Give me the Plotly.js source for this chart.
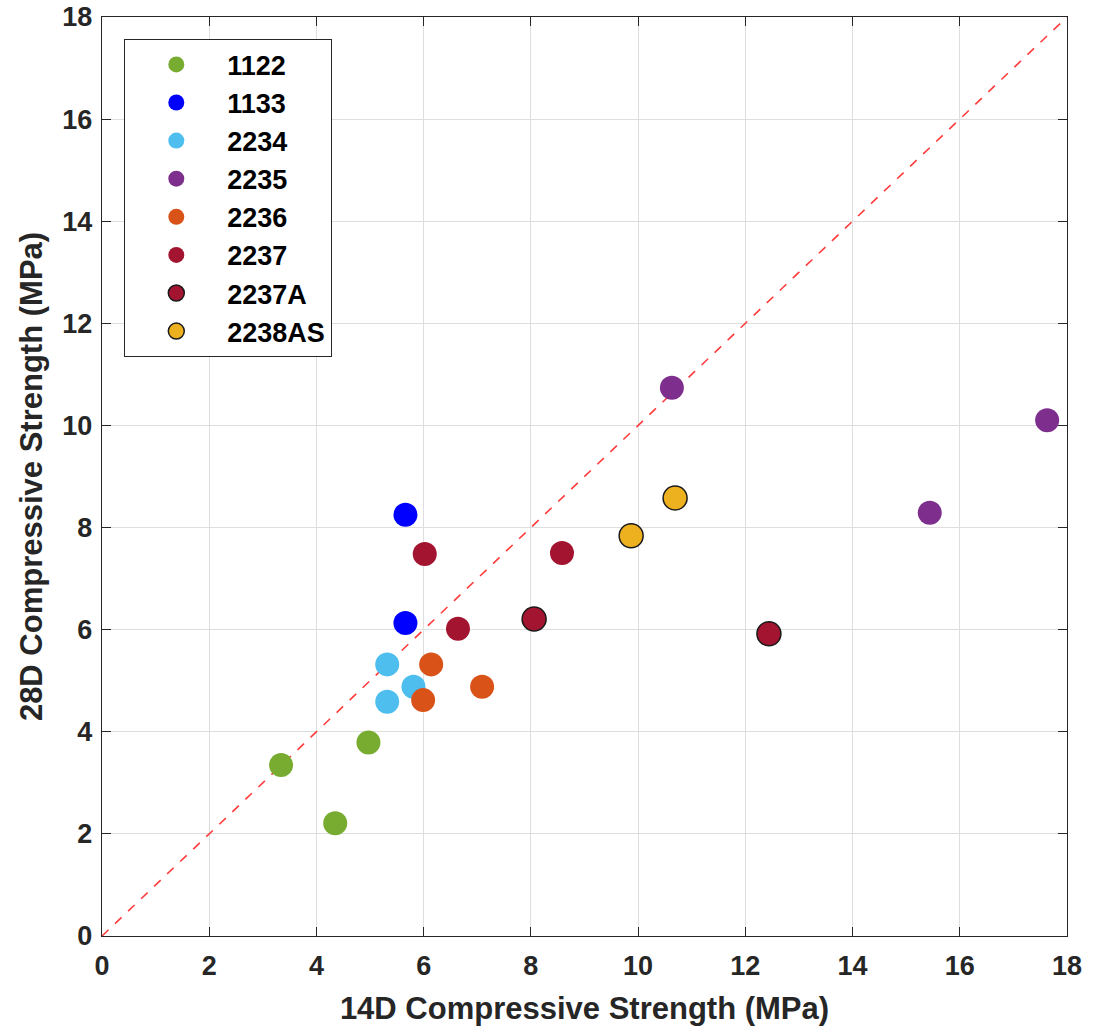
<!DOCTYPE html>
<html>
<head>
<meta charset="utf-8">
<script src="https://cdn.plot.ly/plotly-3.0.1.min.js"></script>
<style>html,body{margin:0;padding:0;background:#fff;}#chart{width:1093px;height:1034px;}</style>
</head>
<body>
<div id="chart"></div>
<script>
// Series names
const seriesNames = ["1122", "1133", "2234", "2235", "2236", "2237", "2237A", "2238AS"];
// 14D compressive strength (MPa) / 28D compressive strength (MPa) per series
const x1122 = [3.34, 4.97, 4.35];
const y1122 = [3.35, 3.79, 2.21];
const x1133 = [5.66, 5.66];
const y1133 = [8.25, 6.13];
const x2234 = [5.32, 5.32, 5.81];
const y2234 = [5.32, 4.59, 4.88];
const x2235 = [10.63, 15.44, 17.63];
const y2235 = [10.74, 8.29, 10.10];
const x2236 = [6.14, 5.99, 7.09];
const y2236 = [5.32, 4.62, 4.88];
const x2237 = [6.02, 6.64, 8.58];
const y2237 = [7.48, 6.02, 7.50];
const x2237A = [8.06, 12.44];
const y2237A = [6.21, 5.92];
const x2238AS = [9.87, 10.69];
const y2238AS = [7.84, 8.58];
// Reference line (y = x)
const refX = [0, 18];
const refY = [0, 18];

const xs = [x1122, x1133, x2234, x2235, x2236, x2237, x2237A, x2238AS];
const ys = [y1122, y1133, y2234, y2235, y2236, y2237, y2237A, y2238AS];
const colors = ["#77AC30", "#0000FF", "#4DBEEE", "#7E2F8E", "#D95319", "#A2142F", "#A2142F", "#EDB120"];
const outlined = [false, false, false, false, false, false, true, true];

const traces = [{
  x: refX, y: refY, mode: "lines", type: "scatter",
  line: {color: "#FF3B3B", width: 1.6, dash: "dash"},
  showlegend: false, hoverinfo: "skip"
}];
seriesNames.forEach((n, i) => {
  traces.push({
    x: xs[i], y: ys[i], name: n, type: "scatter", mode: "markers",
    legendgroup: "g" + i,
    marker: {size: 24, color: colors[i],
      line: {color: outlined[i] ? "#1a1a1a" : colors[i], width: outlined[i] ? 1.5 : 0}}
  });
});

const FONT = "Liberation Sans, Arial, sans-serif";
const axisCommon = {
  range: [0, 18], dtick: 2, tick0: 0,
  showline: true, mirror: "ticks", linecolor: "#262626", linewidth: 1.3,
  ticks: "inside", ticklen: 9, tickcolor: "#262626", tickwidth: 1.2,
  showgrid: true, gridcolor: "#DEDEDE", gridwidth: 1,
  zeroline: false, automargin: false,
  tickfont: {family: FONT, size: 27, color: "#262626", weight: "bold"}
};

const layout = {
  width: 1093, height: 1034,
  margin: {l: 102, r: 26, t: 17, b: 98},
  paper_bgcolor: "#ffffff", plot_bgcolor: "#ffffff",
  font: {family: FONT, color: "#262626"},
  xaxis: Object.assign({}, axisCommon, {
    ticklabelstandoff: 5,
    title: {text: "<b>14D Compressive Strength (MPa)</b>", font: {family: FONT, size: 31, color: "#262626"}, standoff: 17}
  }),
  yaxis: Object.assign({}, axisCommon, {
    ticklabelstandoff: 3,
    title: {text: "<b>28D Compressive Strength (MPa)</b>", font: {family: FONT, size: 31, color: "#262626"}, standoff: 10}
  }),
  showlegend: true,
  legend: {
    x: 0.0228, y: 0.976, xanchor: "left", yanchor: "top",
    bgcolor: "#ffffff", bordercolor: "#262626", borderwidth: 1.3,
    font: {family: FONT, size: 27, color: "#000000", weight: "bold"},
    traceorder: "grouped", tracegroupgap: 0,
    itemsizing: "trace", itemwidth: 92,
    entrywidthmode: "pixels", entrywidth: 206
  }
};

Plotly.newPlot("chart", traces, layout, {displayModeBar: false, staticPlot: true});
</script>
</body>
</html>
